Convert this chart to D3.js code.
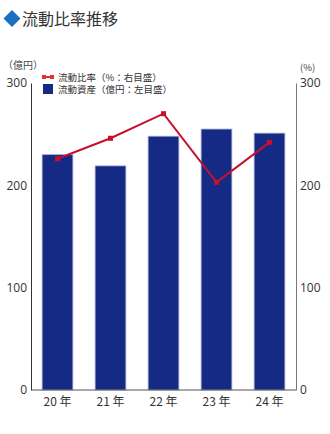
<!DOCTYPE html>
<html>
<head>
<meta charset="utf-8">
<script src="https://cdn.jsdelivr.net/npm/d3@7"></script>
<style>
  body { margin: 0; background: #fff; }
  svg { display: block; font-family: "Noto Sans CJK JP", "Noto Sans", sans-serif; }
</style>
</head>
<body>
<script>
"use strict";

var years = ["20 年", "21 年", "22 年", "23 年", "24 年"];
var assets = [230, 219, 248, 255, 251];      // 流動資産 (億円)
var ratio = [226, 246, 270, 203, 242];       // 流動比率 (%)
var leftTicks = [0, 100, 200, 300];
var rightTicks = [0, 100, 200, 300];

var width = 330, height = 434;
var plot = {left: 31, right: 296, top: 83, bottom: 390};

var svg = d3.select("body").append("svg")
    .attr("width", width)
    .attr("height", height);

var x = d3.scaleBand().domain(years).range([plot.left, plot.right]).paddingInner(0.42).paddingOuter(0.21);
var yL = d3.scaleLinear().domain([0, 300]).range([plot.bottom, plot.top]);
var yR = d3.scaleLinear().domain([0, 300]).range([plot.bottom, plot.top]);

// title
svg.append("path")
    .attr("d", "M12,10 L20.5,18.5 L12,27 L3.5,18.5 Z")
    .attr("fill", "#1a6fc0");
svg.append("text")
    .attr("x", 22).attr("y", 25)
    .attr("font-size", 16)
    .attr("fill", "#333")
    .text("流動比率推移");

// bars
svg.selectAll(".bar")
    .data(assets)
    .enter().append("rect")
    .attr("class", "bar")
    .attr("x", function(d, i) { return x(years[i]); })
    .attr("y", function(d) { return yL(d); })
    .attr("width", x.bandwidth())
    .attr("height", function(d) { return yL(0) - yL(d); })
    .attr("fill", "#142a85")
    .attr("stroke", "#a3aed8")
    .attr("stroke-width", 0.8);

// left axis
var axL = svg.append("g")
    .attr("transform", "translate(" + plot.left + ",0)")
    .call(d3.axisLeft(yL).tickValues(leftTicks).tickSize(0).tickPadding(4));
axL.select(".domain").attr("stroke", "#333").attr("stroke-width", 1);
axL.selectAll("text").attr("font-size", 12).attr("fill", "#333")
    .attr("font-family", "'Open Sans', sans-serif");

// right axis
var axR = svg.append("g")
    .attr("transform", "translate(" + plot.right + ",0)")
    .call(d3.axisRight(yR).tickValues(rightTicks).tickSize(0).tickPadding(4));
axR.select(".domain").attr("stroke", "#777").attr("stroke-width", 1);
axR.selectAll("text").attr("font-size", 12).attr("fill", "#333")
    .attr("font-family", "'Open Sans', sans-serif");

// bottom axis line
svg.append("line")
    .attr("x1", plot.left).attr("x2", plot.right)
    .attr("y1", plot.bottom).attr("y2", plot.bottom)
    .attr("stroke", "#555");

// x labels
svg.selectAll(".xl")
    .data(years)
    .enter().append("text")
    .attr("class", "xl")
    .attr("x", function(d) { return x(d) + x.bandwidth() / 2; })
    .attr("y", 406)
    .attr("text-anchor", "middle")
    .attr("font-size", 12)
    .attr("fill", "#333")
    .text(function(d) { return d; });

// unit labels
svg.append("text").attr("x", 3).attr("y", 69).attr("font-size", 10).attr("fill", "#444").text("（億円）");
svg.append("text").attr("x", 300).attr("y", 71).attr("font-size", 9.5).attr("fill", "#444").text("(%)");

// line
var line = d3.line()
    .x(function(d, i) { return x(years[i]) + x.bandwidth() / 2; })
    .y(function(d) { return yR(d); });

svg.append("path")
    .datum(ratio)
    .attr("d", line)
    .attr("fill", "none")
    .attr("stroke", "#c8102e")
    .attr("stroke-width", 2);

svg.selectAll(".pt")
    .data(ratio)
    .enter().append("rect")
    .attr("class", "pt")
    .attr("x", function(d, i) { return x(years[i]) + x.bandwidth() / 2 - 2.5; })
    .attr("y", function(d) { return yR(d) - 2.5; })
    .attr("width", 5).attr("height", 5)
    .attr("fill", "#c8102e");

// legend
var lg = svg.append("g");
lg.append("line").attr("x1", 43).attr("x2", 53).attr("y1", 77).attr("y2", 77)
    .attr("stroke", "#e03030").attr("stroke-width", 2);
lg.append("rect").attr("x", 42).attr("y", 75).attr("width", 4).attr("height", 4).attr("fill", "#e03030");
lg.append("rect").attr("x", 50).attr("y", 75).attr("width", 4).attr("height", 4).attr("fill", "#e03030");
lg.append("text").attr("x", 58).attr("y", 80.5).attr("font-size", 9.5).attr("fill", "#333")
    .text("流動比率（%：右目盛）");
lg.append("rect").attr("x", 43).attr("y", 84).attr("width", 10).attr("height", 10).attr("fill", "#142a85");
lg.append("text").attr("x", 58).attr("y", 93).attr("font-size", 9.5).attr("fill", "#333")
    .text("流動資産（億円：左目盛）");
</script>
</body>
</html>
